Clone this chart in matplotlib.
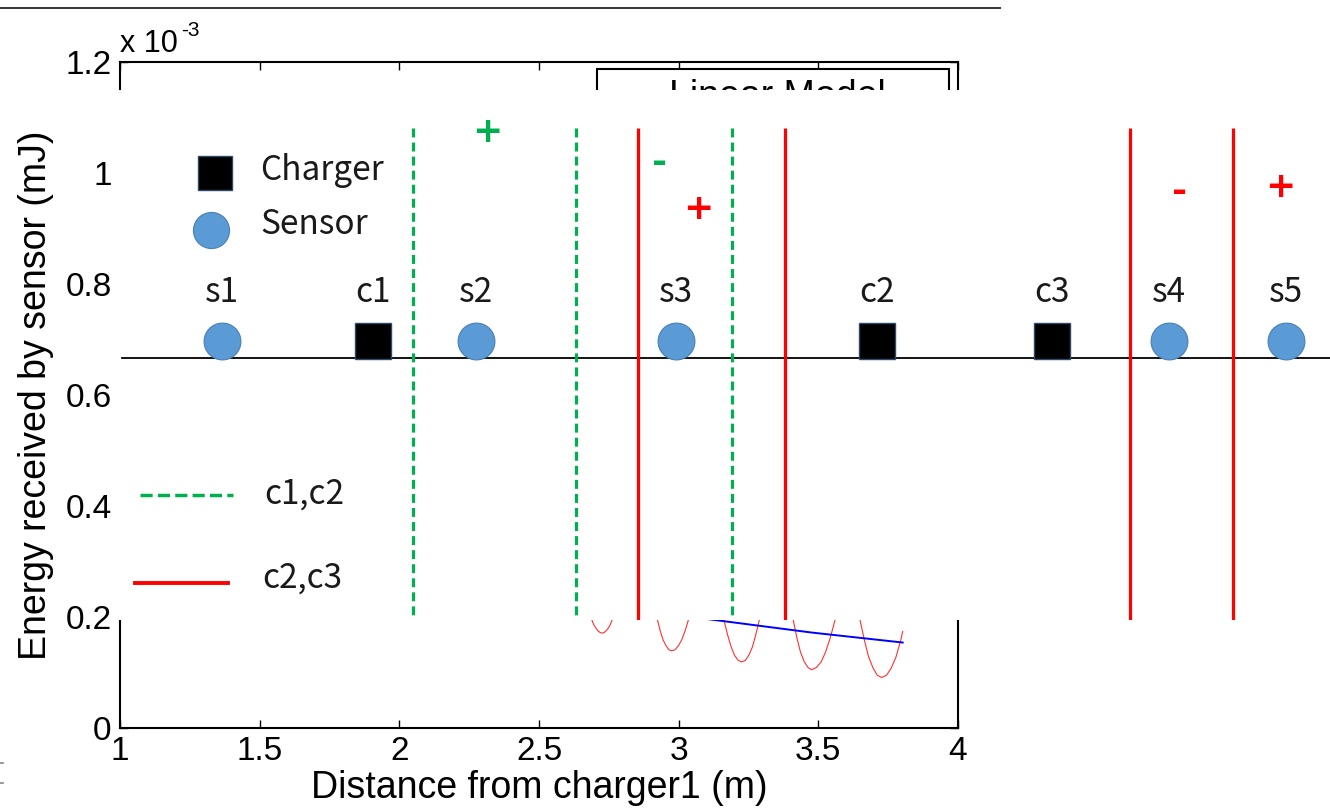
import matplotlib
matplotlib.use("Agg")
import matplotlib.pyplot as plt
from matplotlib.lines import Line2D
from matplotlib.patches import Rectangle

plt.rcParams["font.family"] = ["Liberation Sans", "DejaVu Sans"]

# --- background MATLAB plot (energy in units of 1e-3 mJ) ---
model_x = [2.62,
           2.689, 2.696, 2.704, 2.711, 2.719, 2.726, 2.733, 2.740, 2.748, 2.755, 2.762,
           2.85,
           2.924, 2.934, 2.944, 2.955, 2.965, 2.975, 2.987, 2.999, 3.011, 3.023, 3.035,
           3.10,
           3.162, 3.175, 3.188, 3.200, 3.213, 3.226, 3.239, 3.251, 3.264, 3.276, 3.289,
           3.35,
           3.410, 3.423, 3.436, 3.450, 3.463, 3.476, 3.493, 3.510, 3.526, 3.543, 3.560,
           3.60,
           3.649, 3.665, 3.680, 3.696, 3.711, 3.727, 3.744, 3.761, 3.778, 3.795, 3.802]
model_y = [0.27,
           0.195, 0.186, 0.180, 0.175, 0.172, 0.171, 0.172, 0.175, 0.180, 0.186, 0.195,
           0.27,
           0.195, 0.175, 0.159, 0.148, 0.141, 0.139, 0.141, 0.148, 0.159, 0.175, 0.195,
           0.26,
           0.195, 0.168, 0.146, 0.131, 0.122, 0.119, 0.122, 0.131, 0.146, 0.168, 0.195,
           0.25,
           0.195, 0.163, 0.137, 0.119, 0.109, 0.105, 0.109, 0.119, 0.137, 0.163, 0.195,
           0.24,
           0.195, 0.158, 0.128, 0.108, 0.095, 0.091, 0.095, 0.108, 0.128, 0.158, 0.174]
linear_x = [2.90, 3.123, 3.476, 3.802]
linear_y = [0.209, 0.195, 0.172, 0.154]

x_ticks = [1, 1.5, 2, 2.5, 3, 3.5, 4]
x_ticklabels = ["1", "1.5", "2", "2.5", "3", "3.5", "4"]
y_ticks = [0, 0.2, 0.4, 0.6, 0.8, 1.0, 1.2]
y_ticklabels = ["0", "0.2", "0.4", "0.6", "0.8", "1", "1.2"]

# --- schematic overlay (diagram units) ---
node_labels = ["s1", "c1", "s2", "s3", "c2", "c3", "s4", "s5"]
node_kinds = ["sensor", "charger", "sensor", "sensor", "charger", "charger", "sensor", "sensor"]
node_x = [222, 373, 476, 676, 877, 1052, 1169, 1286]
c12_bounds = [413, 576, 732]
c23_bounds = [638, 785, 1130, 1233]
sign_text = ["+", "-", "+", "-", "+"]
sign_pair = ["c1,c2", "c1,c2", "c2,c3", "c2,c3", "c2,c3"]
sign_x = [487, 660, 698, 1180, 1280]
sign_y = [132, 163, 209, 192, 187]

W, H = 1330, 810
GREEN = "#00B050"
RED = "#FF0000"
SENSOR = "#5B9BD5"
TXT = "#1a1a1a"
OV_FONT = ["Noto Sans CJK SC", "DejaVu Sans"]


def px_rect(left, top, right, bottom):
    return [left / W, 1 - bottom / H, (right - left) / W, (bottom - top) / H]


fig = plt.figure(figsize=(W / 100, H / 100), dpi=100)

ax = fig.add_axes(px_rect(120, 62, 958, 728))
ax.plot(model_x, model_y, color="#ff3030", lw=0.8)
ax.plot(linear_x, linear_y, color="#0000ff", lw=1.4)
ax.set_xlim(1, 4)
ax.set_ylim(0, 1.2)
ax.set_xticks(x_ticks)
ax.set_xticklabels(x_ticklabels)
ax.set_yticks(y_ticks)
ax.set_yticklabels(y_ticklabels)
ax.tick_params(direction="in", length=6, width=1, top=True, right=True,
               labelsize=24, pad=6)
for s in ax.spines.values():
    s.set_linewidth(1.5)
ax.set_xlabel("Distance from charger1 (m)", fontsize=27, labelpad=2)
ax.set_ylabel("Energy received by sensor (mJ)", fontsize=27, labelpad=8)
fig.text(120 / W, 1 - 52 / H, "x 10", fontsize=22, ha="left", va="baseline")
fig.text(181 / W, 1 - 36 / H, "-3", fontsize=15, ha="left", va="baseline")

# legend box of the original plot (mostly hidden)
ax.add_patch(Rectangle((0.569, 0.70), 0.42, 0.2895, transform=ax.transAxes,
                       facecolor="white", edgecolor="black", lw=1.5, zorder=3))
ax.text(0.784, 0.9745, "Linear Model", transform=ax.transAxes, fontsize=27,
        ha="center", va="top", zorder=4)

# frame line at the top and stray marks
fig.add_artist(Line2D([0, 1000 / W], [1 - 8 / H, 1 - 8 / H], color="#333333", lw=1.4))
for yy in (763, 783):
    fig.add_artist(Line2D([0, 3 / W], [1 - yy / H, 1 - yy / H], color="#888888", lw=1.2))

# --- overlay diagram ---
ov = fig.add_axes(px_rect(114, 90, 1330, 620))
ov.set_zorder(5)
ov.set_facecolor("white")
ov.set_xlim(114, 1330)
ov.set_ylim(620, 90)
ov.set_xticks([])
ov.set_yticks([])
for s in ov.spines.values():
    s.set_visible(False)

ov.plot([122, 1330], [358, 358], color="black", lw=1.3, zorder=2)
ov.vlines(c12_bounds, 128, 620, colors=GREEN, lw=2.3, linestyles=(0, (2.8, 1.6)), zorder=3)
ov.vlines(c23_bounds, 128, 620, colors=RED, lw=2.3, zorder=3)

for lab, kind, x in zip(node_labels, node_kinds, node_x):
    if kind == "charger":
        ov.plot(x, 341, marker="s", ms=25.5, mfc="black", mec="#2E4A6B", mew=1, zorder=4)
    else:
        ov.plot(x, 341, marker="o", ms=26.5, mfc=SENSOR, mec="#4A7FB5", mew=0.8, zorder=4)
    ov.text(x, 292, lab, fontsize=24, fontweight="medium", ha="center", va="center",
            family=OV_FONT, color=TXT)

# legend
ov.plot(215, 173, marker="s", ms=25, mfc="black", mec="#2E4A6B", mew=1)
ov.plot(211, 230, marker="o", ms=26, mfc=SENSOR, mec="#4A7FB5", mew=0.8)
ov.text(260, 171, "Charger", fontsize=24, fontweight="medium", ha="left", va="center",
        family=OV_FONT, color=TXT)
ov.text(260, 224, "Sensor", fontsize=24, fontweight="medium", ha="left", va="center",
        family=OV_FONT, color=TXT)
ov.plot([140, 233], [495, 495], color=GREEN, lw=2.5, linestyle=(0, (3.5, 1.5)))
ov.plot([135, 228], [583, 583], color=RED, lw=2.8)
ov.text(264, 494, "c1,c2", fontsize=24, fontweight="medium", ha="left", va="center",
        family=OV_FONT, color=TXT)
ov.text(262, 578, "c2,c3", fontsize=24, fontweight="medium", ha="left", va="center",
        family=OV_FONT, color=TXT)

for t, pair, x, y in zip(sign_text, sign_pair, sign_x, sign_y):
    ov.text(x, y, t, fontsize=26, fontweight="bold", ha="center", va="center",
            color=GREEN if pair == "c1,c2" else RED, family=["DejaVu Sans"])

fig.savefig("out.png", dpi=100)
